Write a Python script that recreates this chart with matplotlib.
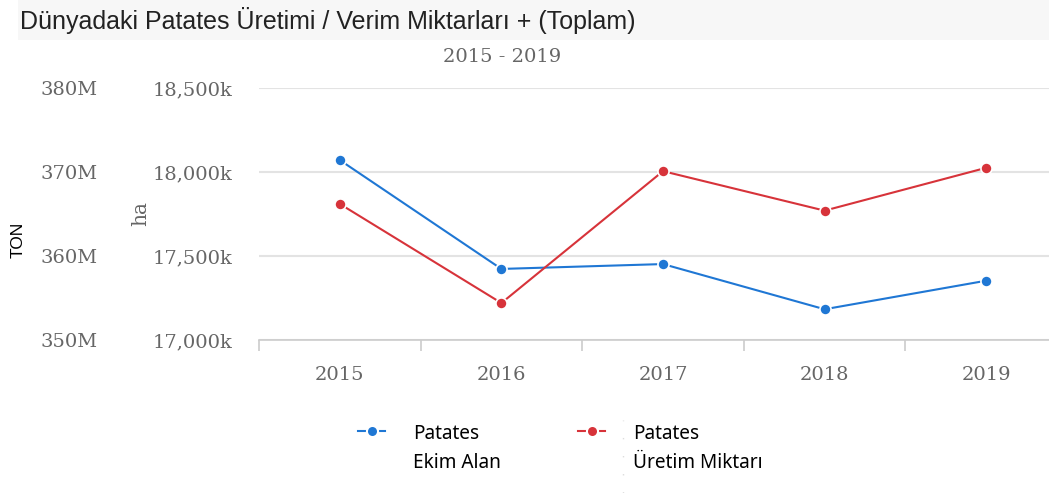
import matplotlib
matplotlib.use("Agg")
import matplotlib.pyplot as plt
from matplotlib.patches import Rectangle
from matplotlib.lines import Line2D
from matplotlib.ticker import FixedLocator

years = ["2015", "2016", "2017", "2018", "2019"]
ekim_alan_k = [18071, 17423, 17452, 17183, 17353]      # ha (thousand)
uretim_m = [366.2, 354.4, 370.1, 365.4, 370.5]          # TON (million)
ha_ticks = [17000, 17500, 18000, 18500]
ha_labels = ["17,000k", "17,500k", "18,000k", "18,500k"]
ton_ticks = [350, 360, 370, 380]
ton_labels = ["350M", "360M", "370M", "380M"]
series_names = ["Patates\nEkim Alan", "Patates\nÜretim Miktarı"]

title = "Dünyadaki Patates Üretimi / Verim Miktarları + (Toplam)"
subtitle = "2015 - 2019"
blue = "#1f77d4"
red = "#d7333a"
grid_c = "#e3e3e3"
tick_c = "#666666"

W, H = 1049, 493
fig = plt.figure(figsize=(W / 100, H / 100), dpi=100)

# title bar
fig.patches.append(Rectangle((18 / W, 1 - 40 / H), 1, 40 / H, transform=fig.transFigure,
                             facecolor="#f7f7f7", edgecolor="none", zorder=0))
fig.text(20 / W, 1 - 20 / H, title, family="Liberation Sans", fontsize=18,
         color="#222222", va="center", ha="left")
fig.text(502 / W, 1 - 57 / H, subtitle, family="DejaVu Serif", fontsize=14,
         color="#666666", va="center", ha="center")

left, right, top, bottom = 259, 1049, 88, 340
ax = fig.add_axes([left / W, 1 - bottom / H, (right - left) / W, (bottom - top) / H])
ax2 = ax.twinx()

x = list(range(len(years)))
ax.plot(x, ekim_alan_k, color=blue, lw=1.5, marker="o", ms=8, mfc=blue, mec="white",
        mew=1.2, zorder=5, clip_on=False)
ax2.plot(x, uretim_m, color=red, lw=1.5, marker="o", ms=8, mfc=red, mec="white",
         mew=1.2, zorder=5, clip_on=False)

step = 161.6
ax.set_xlim(-0.5, -0.5 + (right - left) / step)
ax.set_ylim(17000, 18500)
ax2.set_ylim(350, 380)

for a in (ax, ax2):
    for s in a.spines.values():
        s.set_visible(False)
    a.patch.set_visible(False)

ax.spines["bottom"].set_visible(True)
ax.spines["bottom"].set_color("#cccccc")
ax.spines["bottom"].set_linewidth(1.2)

fs_tick = 14
ax.set_yticks(ha_ticks)
ax.set_yticklabels(ha_labels, family="DejaVu Serif", fontsize=fs_tick, color=tick_c)
ax.tick_params(axis="y", length=0, pad=19)
ax.yaxis.grid(True, color=grid_c, lw=1.5)
ax.set_axisbelow(True)

ax2.yaxis.tick_left()
ax2.set_yticks(ton_ticks)
ax2.set_yticklabels(ton_labels, family="DejaVu Serif", fontsize=fs_tick, color=tick_c)
ax2.tick_params(axis="y", length=0, pad=116, left=True, labelleft=True, right=False, labelright=False)

ax.set_xticks(x)
ax.set_xticklabels(years, family="DejaVu Serif", fontsize=fs_tick, color=tick_c)
ax.tick_params(axis="x", which="major", length=0, pad=19)
ax.xaxis.set_minor_locator(FixedLocator([i - 0.5 for i in range(len(years))]))
ax.tick_params(axis="x", which="minor", length=8, color="#cccccc", width=1.2)

fig.text(18 / W, 1 - 240 / H, "TON", family="Liberation Sans", fontsize=12.5,
         color="black", rotation=90, va="center", ha="center")
fig.text(141 / W, 1 - 213 / H, "ha", family="DejaVu Serif", fontsize=14.5,
         color=tick_c, rotation=90, va="center", ha="center")

# legend (drawn manually: symbol aligned with first text line)
leg_items = [(358, 413, blue, series_names[0]), (578, 633, red, series_names[1])]
for hx, tx, col, name in leg_items:
    y = 1 - 431 / H
    fig.add_artist(Line2D([hx / W, (hx + 27) / W], [y, y], transform=fig.transFigure,
                          color=col, lw=1.5))
    fig.add_artist(Line2D([(hx + 13.5) / W], [y], transform=fig.transFigure, marker="o",
                          ms=8, mfc=col, mec="white", mew=1.5, ls="none"))
    fig.text(tx / W, 1 - 424 / H, name, family="Noto Sans", fontsize=13.7, color="black",
             ha="left", va="top", linespacing=1.6)

fig.add_artist(Line2D([623 / W, 623 / W], [0, 1 - 420 / H], transform=fig.transFigure,
                      color="#dddddd", lw=1, ls=(0, (1, 12))))

fig.savefig("out.png", dpi=100)
